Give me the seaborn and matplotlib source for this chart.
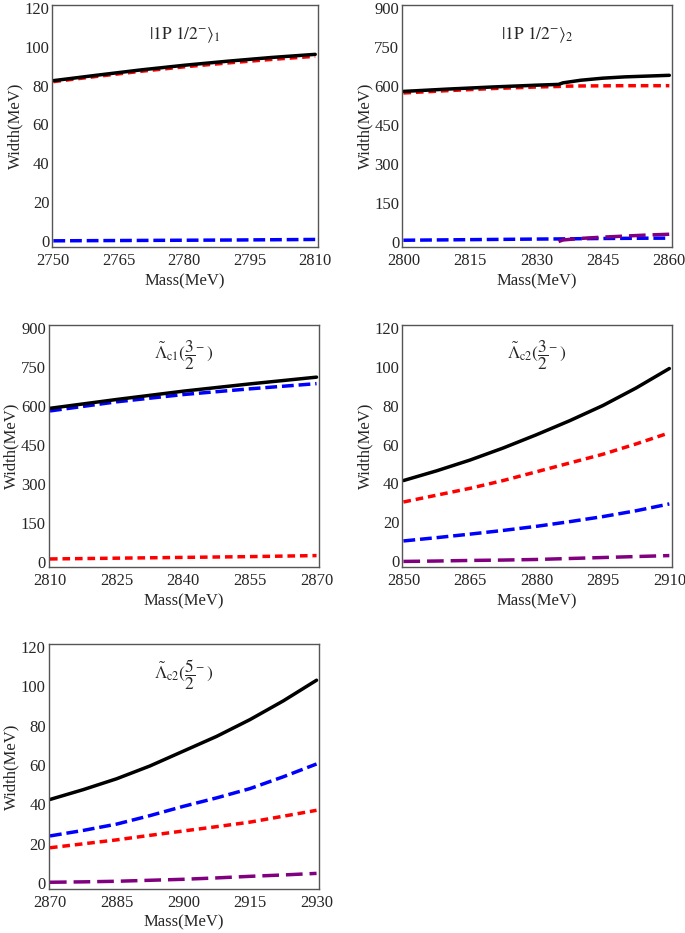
import pandas as pd
import matplotlib.pyplot as plt
import seaborn as sns

sns.set_theme(style="white")
plt.rcParams['font.family'] = ['Liberation Serif', 'DejaVu Serif']
plt.rcParams['mathtext.fontset'] = 'stix'

# panel 1: |1P 1/2-> 1
m1 = [2750, 2760, 2770, 2780, 2790, 2800, 2810]
tot1 = [82.5, 85.3, 88.0, 90.4, 92.5, 94.4, 96.0]
red1 = [82.0, 84.7, 87.3, 89.6, 91.6, 93.4, 95.0]
blue1 = [0.3, 0.4, 0.5, 0.6, 0.7, 0.85, 1.0]

# panel 2: |1P 1/2-> 2
m2 = [2800, 2810, 2820, 2830, 2835, 2836, 2840, 2845, 2850, 2855, 2860]
tot2 = [578, 587, 595, 602, 605, 611, 621, 629, 634, 637, 640]
red2 = [572, 581, 589, 595, 597, 598, 599, 599.5, 600, 600, 600]
blue2 = [5, 6.5, 8, 9.5, 10, 10.2, 11, 11.7, 12.3, 12.8, 13]
m2p = [2835, 2836, 2840, 2845, 2850, 2855, 2860]
purple2 = [0, 6, 12, 17, 21, 25, 28]

# panel 3: Lambda_c1(3/2-)
m3 = [2810, 2825, 2840, 2855, 2870]
tot3 = [590, 624, 656, 684, 710]
blue3 = [580, 615, 643, 665, 685]
red3 = [10, 13, 16, 19, 23]

# panel 4: Lambda_c2(3/2-)
m4 = [2850, 2857.5, 2865, 2872.5, 2880, 2887.5, 2895, 2902.5, 2910]
tot4 = [41.5, 46.5, 52.0, 58.2, 65.0, 72.2, 80.0, 89.0, 99.0]
red4 = [30.5, 34.0, 37.5, 41.5, 46.0, 50.5, 55.0, 60.3, 66.0]
blue4 = [10.5, 12.2, 14.0, 15.9, 18.0, 20.4, 23.0, 26.0, 29.5]
purple4 = [0.0, 0.2, 0.5, 0.7, 1.0, 1.5, 2.0, 2.5, 3.0]

# panel 5: Lambda_c2(5/2-)
m5 = [2870, 2877.5, 2885, 2892.5, 2900, 2907.5, 2915, 2922.5, 2930]
tot5 = [42.5, 47.5, 53.0, 59.5, 67.0, 74.5, 83.0, 92.5, 103.0]
blue5 = [24.0, 26.8, 30.0, 34.3, 39.0, 43.3, 48.0, 54.0, 60.5]
red5 = [18.0, 20.0, 22.0, 24.3, 26.5, 28.7, 31.0, 34.0, 37.0]
purple5 = [0.5, 0.7, 1.0, 1.5, 2.0, 2.7, 3.5, 4.2, 5.0]

titles = [r'$|1\mathrm{P}\ 1/2^{-}\rangle_1$',
          r'$|1\mathrm{P}\ 1/2^{-}\rangle_2$',
          r'$\tilde{\Lambda}_{\mathrm{c1}}(\dfrac{3}{2}^{-}\,)$',
          r'$\tilde{\Lambda}_{\mathrm{c2}}(\dfrac{3}{2}^{-}\,)$',
          r'$\tilde{\Lambda}_{\mathrm{c2}}(\dfrac{5}{2}^{-}\,)$']

colors = {'red': '#ff0000', 'blue': '#0000ff', 'purple': '#800080', 'total': 'black'}
dashes = {'red': (2.2, 1.4), 'blue': (3.4, 1.4), 'purple': (4.8, 2.0), 'total': ''}


def frame(parts):
    rows = []
    for name, xs, ys in parts:
        for x, y in zip(xs, ys):
            rows.append({'mass': x, 'width': y, 'series': name})
    return pd.DataFrame(rows)


panels = [
    (frame([('red', m1, red1), ('blue', m1, blue1), ('total', m1, tot1)]),
     (2750, 2810), (-3, 121.5), [2750, 2765, 2780, 2795, 2810], [0, 20, 40, 60, 80, 100, 120],
     [0.076, 0.735, 0.388, 0.260]),
    (frame([('red', m2, red2), ('blue', m2, blue2), ('purple', m2p, purple2), ('total', m2, tot2)]),
     (2800, 2860), (-22, 912), [2800, 2815, 2830, 2845, 2860], [0, 150, 300, 450, 600, 750, 900],
     [0.587, 0.735, 0.394, 0.260]),
    (frame([('red', m3, red3), ('blue', m3, blue3), ('total', m3, tot3)]),
     (2810, 2870), (-22, 912), [2810, 2825, 2840, 2855, 2870], [0, 150, 300, 450, 600, 750, 900],
     [0.071, 0.392, 0.395, 0.260]),
    (frame([('red', m4, red4), ('blue', m4, blue4), ('purple', m4, purple4), ('total', m4, tot4)]),
     (2850, 2910), (-3, 121.5), [2850, 2865, 2880, 2895, 2910], [0, 20, 40, 60, 80, 100, 120],
     [0.587, 0.392, 0.394, 0.260]),
    (frame([('red', m5, red5), ('blue', m5, blue5), ('purple', m5, purple5), ('total', m5, tot5)]),
     (2870, 2930), (-3, 121.5), [2870, 2885, 2900, 2915, 2930], [0, 20, 40, 60, 80, 100, 120],
     [0.071, 0.047, 0.395, 0.263]),
]

fig = plt.figure(figsize=(6.85, 9.33), dpi=100)

for (df, xl, yl, xt, yt, pos), title in zip(panels, titles):
    ax = fig.add_axes(pos)
    order = [s for s in ['red', 'blue', 'purple', 'total'] if s in df['series'].unique()]
    sns.lineplot(data=df, x='mass', y='width', hue='series', style='series',
                 hue_order=order, style_order=order,
                 palette=colors, dashes=dashes, linewidth=2.5, legend=False, ax=ax)
    ax.set_xlim(xl[0] - 0.3, xl[1] + 0.6)
    ax.set_ylim(*yl)
    ax.set_xticks(xt)
    ax.set_yticks(yt)
    ax.tick_params(labelsize=12, length=0)
    ax.tick_params(axis='x', pad=4)
    ax.tick_params(axis='y', pad=2)
    ax.set_xlabel('Mass(MeV)', fontsize=12, labelpad=3)
    ax.set_ylabel('Width(MeV)', fontsize=12, labelpad=1)
    for sp in ax.spines.values():
        sp.set_color('#555555')
        sp.set_linewidth(1.0)
    ax.text(0.5, 0.875, title, transform=ax.transAxes, ha='center', va='center', fontsize=12.5)

plt.savefig('out.png', dpi=100)
